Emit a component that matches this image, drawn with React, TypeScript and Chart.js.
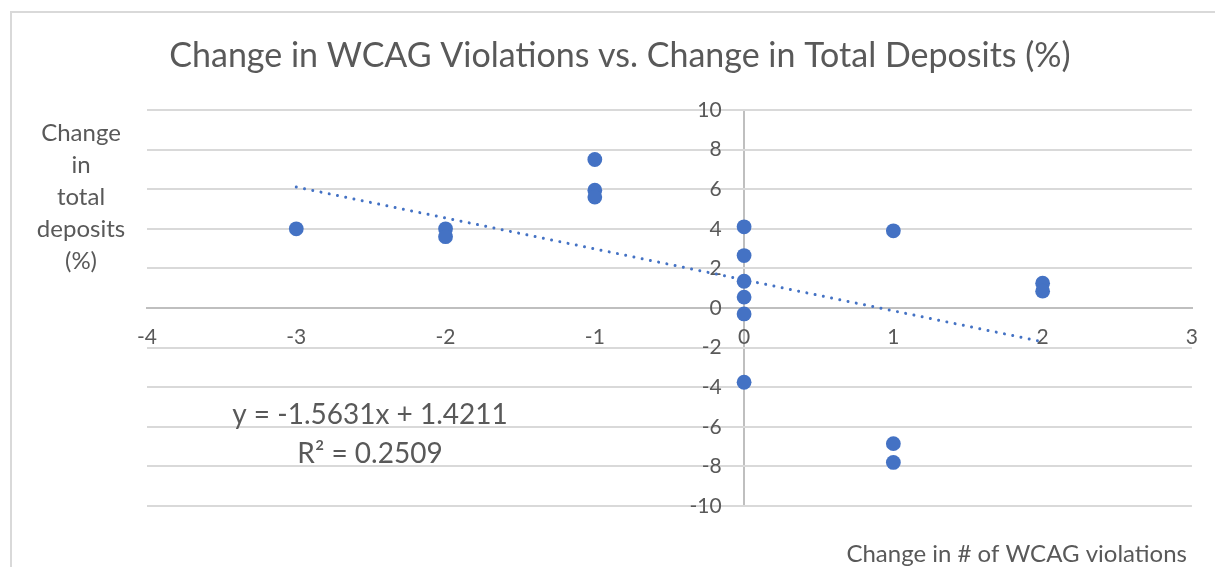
import { useEffect, useRef } from "react";
import { Chart, registerables } from "chart.js";

Chart.register(...registerables);

// ---- data ----
const changeInViolations = [-3, -2, -2, -1, -1, -1, 0, 0, 0, 0, 0, 0, 1, 1, 1, 2, 2];
const changeInDeposits = [4.0, 4.0, 3.6, 7.5, 5.95, 5.6, 4.1, 2.65, 1.35, 0.55, -0.3, -3.75, 3.9, -6.85, -7.8, 1.25, 0.85];

// trendline as reported by the chart (y = -1.5631x + 1.4211, R² = 0.2509)
const trendSlope = -1.5631;
const trendIntercept = 1.4211;
const trendRSquared = 0.2509;
const trendXRange = [-3, 2];

const xAxisMin = -4;
const xAxisMax = 3;
const xAxisStep = 1;
const yAxisMin = -10;
const yAxisMax = 10;
const yAxisStep = 2;

const chartTitle = "Change in WCAG Violations vs. Change in Total Deposits (%)";
const yAxisTitleLines = ["Change", "in", "total", "deposits", "(%)"];
const xAxisTitle = "Change in # of WCAG violations";

const FONT = "Lato, 'Open Sans', sans-serif";
const TEXT = "#595959";
const BLUE = "#4472C4";

const fmt = (v: number) => (v < 0 ? "-" : "") + Math.abs(v).toFixed(4).replace(/0+$/, "").replace(/\.$/, "");

const textPlugin = {
  id: "excelTexts",
  afterDraw(chart: any) {
    const ctx = chart.ctx as CanvasRenderingContext2D;
    ctx.save();
    ctx.fillStyle = TEXT;
    ctx.textBaseline = "middle";

    ctx.textAlign = "center";
    ctx.font = `34px ${FONT}`;
    ctx.fillText(chartTitle, 620, 56);

    ctx.font = `24px ${FONT}`;
    yAxisTitleLines.forEach((line, i) => ctx.fillText(line, 81, 133 + i * 32));

    ctx.textAlign = "right";
    ctx.fillText(xAxisTitle, 1187, 554);

    ctx.textAlign = "center";
    ctx.font = `28px ${FONT}`;
    const sign = trendIntercept >= 0 ? "+" : "-";
    ctx.fillText(`y = ${fmt(trendSlope)}x ${sign} ${fmt(Math.abs(trendIntercept))}`, 370, 415);
    ctx.fillText(`R² = ${trendRSquared.toFixed(4)}`, 370, 454);
    ctx.restore();
  },
};

export default function App() {
  const canvasRef = useRef<HTMLCanvasElement | null>(null);

  useEffect(() => {
    const canvas = canvasRef.current;
    if (!canvas) return;

    const points = changeInViolations.map((x, i) => ({ x, y: changeInDeposits[i] }));
    const trend = trendXRange.map((x) => ({ x, y: trendSlope * x + trendIntercept }));

    const chart = new Chart(canvas, {
      type: "scatter",
      data: {
        datasets: [
          {
            label: "Deposits",
            data: points,
            backgroundColor: BLUE,
            borderColor: BLUE,
            borderWidth: 0,
            pointRadius: 7.4,
            pointHoverRadius: 7.4,
            order: 2,
          },
          {
            label: "Linear trend",
            data: trend,
            showLine: true,
            borderColor: BLUE,
            borderWidth: 3,
            borderDash: [0.01, 8.4],
            borderCapStyle: "round",
            pointRadius: 0,
            fill: false,
            order: 1,
          } as any,
        ],
      },
      options: {
        responsive: false,
        animation: false,
        events: [],
        layout: { padding: { left: 147, right: 22, top: 110, bottom: 61 } },
        plugins: {
          legend: { display: false },
          title: { display: false },
          tooltip: { enabled: false },
        },
        scales: {
          x: {
            type: "linear",
            min: xAxisMin,
            max: xAxisMax,
            position: { y: 0 } as any,
            afterFit: (s: any) => {
              s.height = 0;
            },
            ticks: {
              stepSize: xAxisStep,
              autoSkip: false,
              maxRotation: 0,
              padding: 17,
              color: TEXT,
              font: { family: FONT, size: 21 },
            },
            grid: {
              display: true,
              drawOnChartArea: true,
              drawTicks: false,
              lineWidth: 2,
              color: (c: any) => (c.tick && c.tick.value === 0 ? "#bfbfbf" : "rgba(0,0,0,0)"),
            },
            border: { display: true, color: "#bfbfbf", width: 2 },
          },
          y: {
            type: "linear",
            min: yAxisMin,
            max: yAxisMax,
            position: { x: -0.15 } as any,
            afterFit: (s: any) => {
              s.width = 0;
            },
            ticks: {
              stepSize: yAxisStep,
              autoSkip: false,
              color: TEXT,
              font: { family: FONT, size: 21 },
            },
            grid: {
              display: true,
              drawTicks: false,
              lineWidth: 2,
              color: "#d9d9d9",
            },
            border: { display: false },
          },
        },
      },
      plugins: [textPlugin],
    });

    return () => chart.destroy();
  }, []);

  return (
    <div
      style={{
        position: "fixed",
        left: 0,
        top: 0,
        width: 1215,
        height: 567,
        overflow: "hidden",
        background: "#ffffff",
      }}
    >
      <div
        style={{
          position: "absolute",
          left: 10,
          top: 11,
          width: 1400,
          height: 800,
          borderLeft: "2px solid #d9d9d9",
          borderTop: "2px solid #d9d9d9",
        }}
      />
      <canvas
        ref={canvasRef}
        width={1215}
        height={567}
        style={{ position: "absolute", left: 0, top: 0, width: 1215, height: 567 }}
      />
    </div>
  );
}
